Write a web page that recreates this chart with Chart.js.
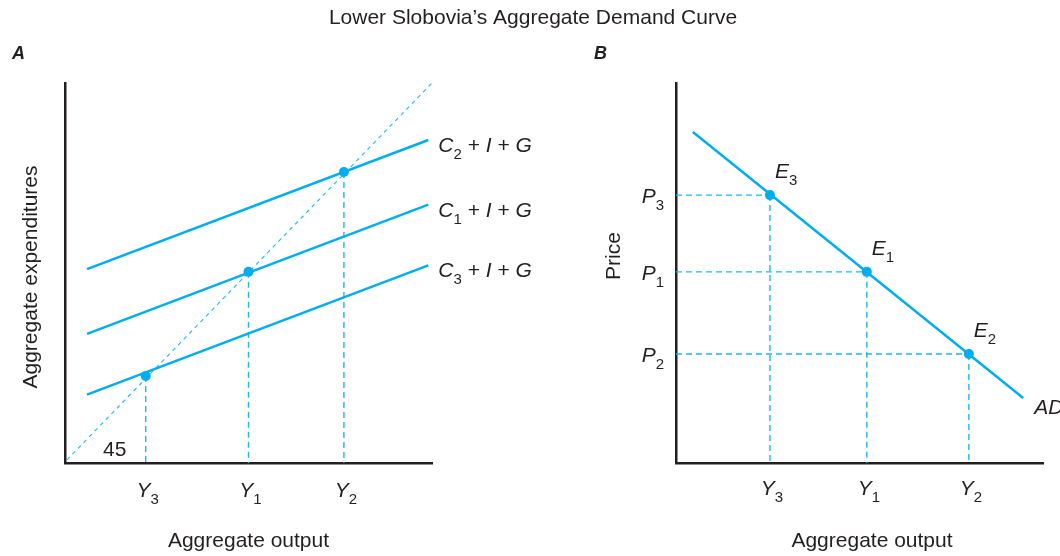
<!DOCTYPE html>
<html>
<head>
<meta charset="utf-8">
<script src="https://cdn.jsdelivr.net/npm/chart.js@4"></script>
<style>
  body { margin: 0; background: #fff; }
  #wrap { position: relative; width: 1060px; height: 556px; }
  canvas { position: absolute; left: 0; top: 0; }
</style>
</head>
<body>
<div id="wrap">
  <canvas id="chartA" width="1060" height="556"></canvas>
  <canvas id="chartB" width="1060" height="556"></canvas>
</div>
<script>
// Panel A : aggregate expenditure lines (x ends, y ends)
const aeX = [6, 99];
const c2Y = [51, 85];
const c1Y = [34, 68];
const c3Y = [18, 52];
const diagX = [0.5, 100];
const diagY = [0.8, 100];
// equilibria Y3, Y1, Y2
const aEqX = [22, 50, 76];
const aEqY = [22.9, 50.3, 76.6];
const aEqSub = ['3', '1', '2'];
const aLineSub = ['2', '1', '3'];

// Panel B : aggregate demand
const adX = [4.6, 94.6];
const adY = [87.1, 17.1];
// E3, E1, E2
const bEqX = [25.6, 52, 79.8];
const bEqY = [70.5, 50.3, 28.7];
const bEqSub = ['3', '1', '2'];

const BLUE = '#00aeef';
const AXIS = '#231f20';
const FF = '"Liberation Sans", Arial, sans-serif';

function seg(xs, ys) {
  return xs.map((x, i) => ({ x: x, y: ys[i] }));
}

function solid(data) {
  return { data: data, showLine: true, borderColor: BLUE, borderWidth: 2.5, pointRadius: 0, order: 1 };
}

function dashed(data, dash, w) {
  return { data: data, showLine: true, borderColor: '#1cb8f0', borderWidth: w, borderDash: dash, pointRadius: 0, order: 2 };
}

function dots(xs, ys) {
  return { data: seg(xs, ys), showLine: false, pointRadius: 5, pointBackgroundColor: BLUE, pointBorderWidth: 0, order: 0 };
}

// text with italic letter + subscript
function rich(ctx, parts, x, y, align) {
  const fonts = { n: '21px ' + FF, i: 'italic 21px ' + FF, s: '15px ' + FF };
  let w = 0;
  parts.forEach(p => { ctx.font = fonts[p[1]]; w += ctx.measureText(p[0]).width; });
  let cx = align === 'center' ? x - w / 2 : (align === 'right' ? x - w : x);
  ctx.textAlign = 'left';
  ctx.textBaseline = 'alphabetic';
  parts.forEach(p => {
    ctx.font = fonts[p[1]];
    ctx.fillText(p[0], cx, p[1] === 's' ? y + 7 : y);
    cx += ctx.measureText(p[0]).width;
  });
}

function plain(ctx, text, x, y, align, font) {
  ctx.font = font || ('21px ' + FF);
  ctx.textAlign = align;
  ctx.textBaseline = 'alphabetic';
  ctx.fillText(text, x, y);
}

function scales() {
  const ax = {
    type: 'linear', min: 0, max: 100,
    ticks: { display: false },
    grid: { display: true, color: 'transparent', drawTicks: false },
    border: { display: true, color: AXIS, width: 2.5 }
  };
  return { x: Object.assign({}, ax), y: Object.assign({}, ax) };
}

function makeChart(id, datasets, padding, draw) {
  return new Chart(document.getElementById(id), {
    type: 'scatter',
    data: { datasets: datasets },
    options: {
      responsive: false,
      devicePixelRatio: 1,
      animation: false,
      layout: { padding: padding, autoPadding: false },
      plugins: { legend: { display: false }, tooltip: { enabled: false }, title: { display: false } },
      scales: scales()
    },
    plugins: [{ id: 'texts', afterDraw: chart => {
      const ctx = chart.ctx;
      ctx.save();
      ctx.fillStyle = '#231f20';
      draw(ctx, chart.scales.x, chart.scales.y, chart.chartArea);
      ctx.restore();
    } }]
  });
}

// ---- Panel A
const aSets = [dots(aEqX, aEqY),
  solid(seg(aeX, c2Y)), solid(seg(aeX, c1Y)), solid(seg(aeX, c3Y)),
  dashed(seg(diagX, diagY), [4, 4], 1.1)];
aEqX.forEach((x, i) => aSets.push(dashed([{ x: x, y: aEqY[i] }, { x: x, y: 0 }], [6, 4], 1.4)));

makeChart('chartA', aSets, { left: 65, right: 628, top: 83, bottom: 93 }, (ctx, xs, ys, area) => {
  plain(ctx, 'Lower Slobovia\u2019s Aggregate Demand Curve', 533, 24, 'center');
  plain(ctx, 'A', 12, 59, 'left', 'italic bold 18px ' + FF);
  plain(ctx, 'B', 594, 59, 'left', 'italic bold 18px ' + FF);
  [c2Y, c1Y, c3Y].forEach((ln, i) => {
    rich(ctx, [['C', 'i'], [aLineSub[i], 's'], [' + ', 'n'], ['I', 'i'], [' + ', 'n'], ['G', 'i']],
      xs.getPixelForValue(aeX[1]) + 10, ys.getPixelForValue(ln[1]) + 12, 'left');
  });
  aEqX.forEach((x, i) => {
    rich(ctx, [['Y', 'i'], [aEqSub[i], 's']], xs.getPixelForValue(x) + 2, area.bottom + 34, 'center');
  });
  plain(ctx, '45', area.left + 38, area.bottom - 7, 'left');
  plain(ctx, 'Aggregate output', (area.left + area.right) / 2, 547, 'center');
  ctx.save();
  ctx.translate(37, 277);
  ctx.rotate(-Math.PI / 2);
  plain(ctx, 'Aggregate expenditures', 0, 0, 'center');
  ctx.restore();
});

// ---- Panel B
const bSets = [dots(bEqX, bEqY), solid(seg(adX, adY))];
bEqX.forEach((x, i) => {
  bSets.push(dashed([{ x: 0, y: bEqY[i] }, { x: x, y: bEqY[i] }], [6, 4], 1.4));
  bSets.push(dashed([{ x: x, y: bEqY[i] }, { x: x, y: 0 }], [6, 4], 1.4));
});

makeChart('chartB', bSets, { left: 676, right: 17, top: 83, bottom: 93 }, (ctx, xs, ys, area) => {
  bEqX.forEach((x, i) => {
    const px = xs.getPixelForValue(x);
    const py = ys.getPixelForValue(bEqY[i]);
    rich(ctx, [['E', 'i'], [bEqSub[i], 's']], px + 5, py - 17, 'left');
    rich(ctx, [['P', 'i'], [bEqSub[i], 's']], area.left - 12, py + 8, 'right');
    rich(ctx, [['Y', 'i'], [bEqSub[i], 's']], px + 2, area.bottom + 32, 'center');
  });
  rich(ctx, [['AD', 'i']], xs.getPixelForValue(adX[1]) + 11, ys.getPixelForValue(adY[1]) + 16, 'left');
  plain(ctx, 'Aggregate output', 872, 547, 'center');
  ctx.save();
  ctx.translate(620, 256);
  ctx.rotate(-Math.PI / 2);
  plain(ctx, 'Price', 0, 0, 'center');
  ctx.restore();
});
</script>
</body>
</html>
